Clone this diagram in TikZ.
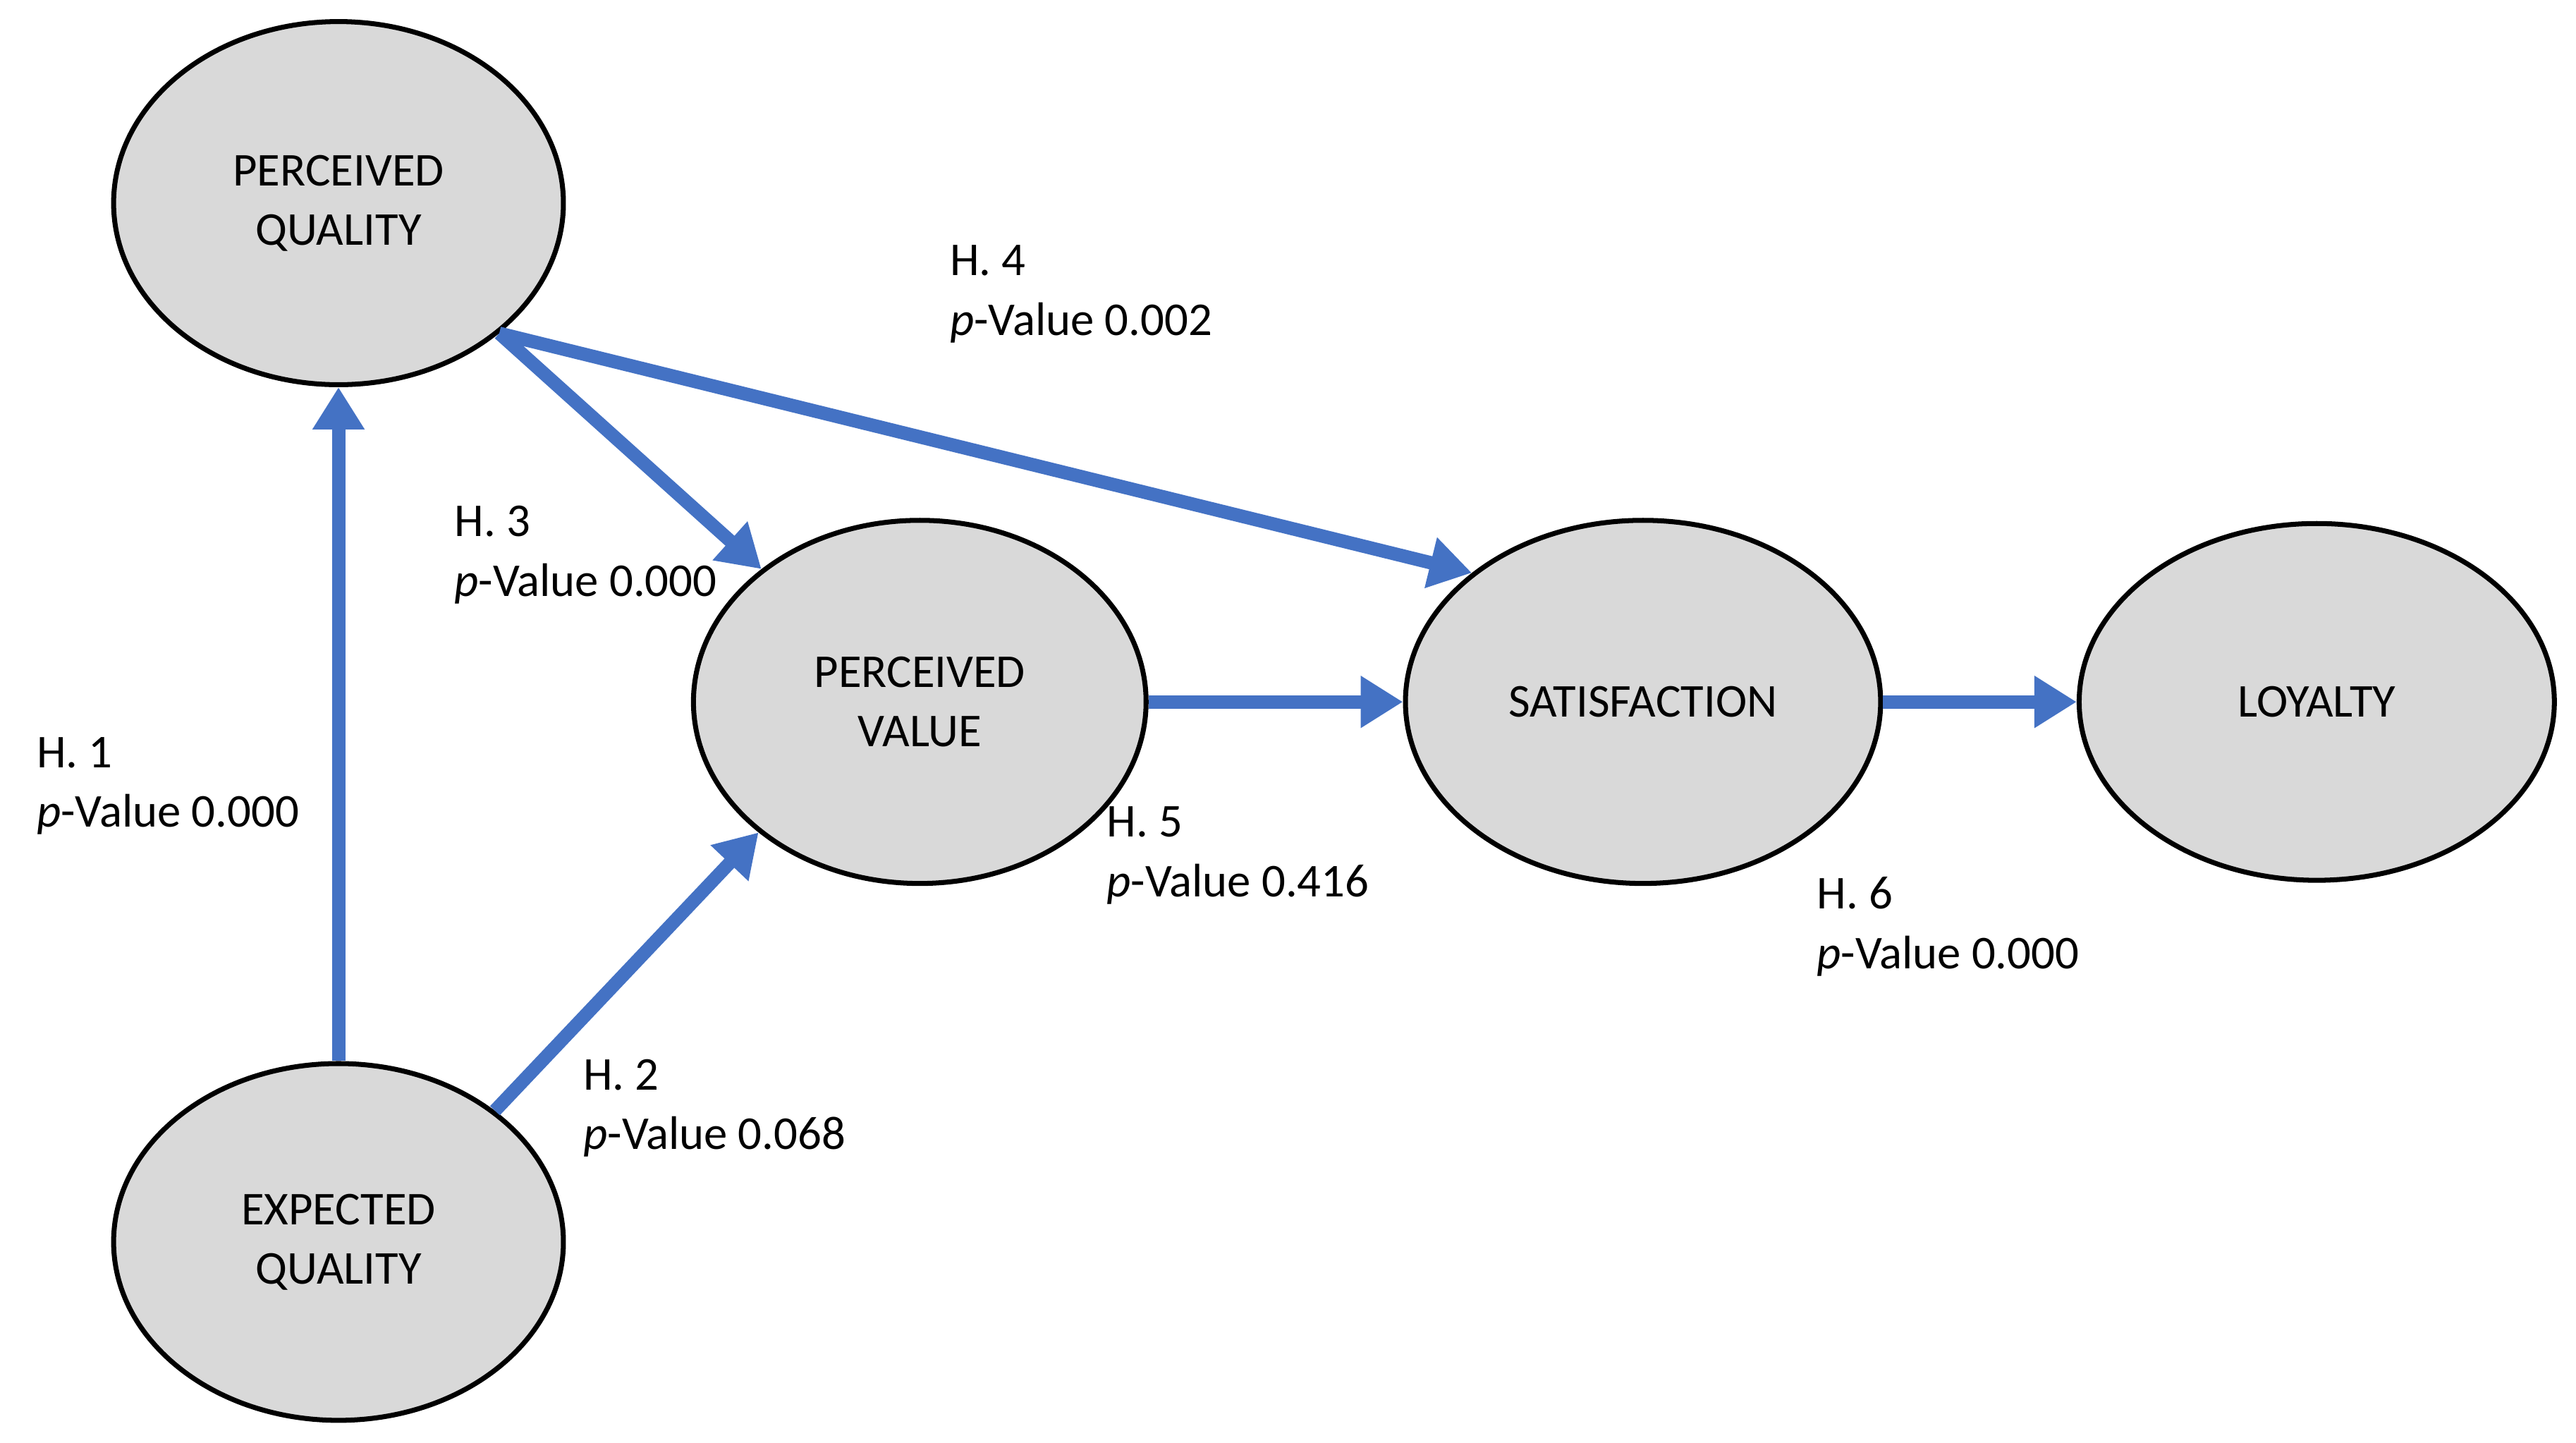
\documentclass[tikz,border=0pt]{standalone}
\usepackage{fontspec}
\setmainfont{Carlito}
\usetikzlibrary{arrows.meta,shapes.geometric}
\definecolor{pathblue}{HTML}{4472C4}
\definecolor{constructgray}{HTML}{D9D9D9}
\tikzset{
  construct/.style={ellipse, draw, line width=2pt, fill=constructgray, align=center, font=\fontsize{19}{24}\selectfont},
  hyp/.style={draw=pathblue, line width=5.4pt, -{Triangle[length=0.6cm,width=0.7cm]}},
  pval/.style={anchor=west, align=left, inner sep=0pt, font=\fontsize{19}{24}\selectfont}
}
\begin{document}
\begin{tikzpicture}[x=0.02342cm, y=-0.02342cm]
            \useasboundingbox (0,0) rectangle (1560,873.6);
            % Nodes
            \node[construct, minimum width=6.38cm, minimum height=5.15cm] (pq) at (205,123) {PERCEIVED\\QUALITY};
            \node[construct, minimum width=6.38cm, minimum height=5.06cm] (eq) at (205,752) {EXPECTED\\QUALITY};
            \node[construct, minimum width=6.42cm, minimum height=5.15cm] (pv) at (557,425) {PERCEIVED\\VALUE};
            \node[construct, minimum width=6.74cm, minimum height=5.15cm] (sat) at (995,425) {SATISFACTION};
            \node[construct, minimum width=6.74cm, minimum height=5.06cm] (loy) at (1403,425) {LOYALTY};

            % Edges
            \draw[hyp] (eq) -- (pq);
            \draw[hyp] (eq.40) -- (pv.219);
            \draw[hyp] (pq.-39) -- (pv.140);
            \draw[hyp] (pq.-39) -- (sat.143);
            \draw[hyp] (pv) -- (sat);
            \draw[hyp] (sat) -- (loy);

            % Labels
            \node[pval] (l1) at (22,476) {H. 1\\\textit{p}-Value 0.000};
            \node[pval] (l2) at (353,671) {H. 2\\\textit{p}-Value 0.068};
            \node[pval] (l3) at (275,336) {H. 3\\\textit{p}-Value 0.000};
            \node[pval] (l4) at (575,178) {H. 4\\\textit{p}-Value 0.002};
            \node[pval] (l5) at (670,518) {H. 5\\\textit{p}-Value 0.416};
            \node[pval] (l6) at (1100,561) {H. 6\\\textit{p}-Value 0.000};
        \end{tikzpicture}
\end{document}
